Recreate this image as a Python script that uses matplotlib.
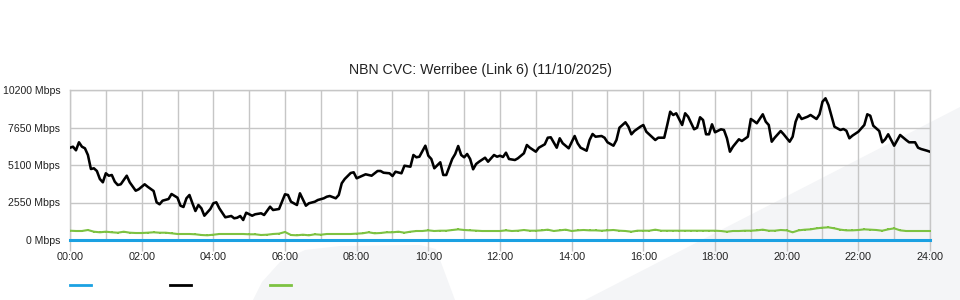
import matplotlib
matplotlib.use("Agg")
import matplotlib.pyplot as plt
from matplotlib.patches import Polygon
from matplotlib.lines import Line2D
import numpy as np

plt.rcParams['font.family'] = ['Liberation Sans', 'DejaVu Sans']

TITLE = "NBN CVC: Werribee (Link 6) (11/10/2025)"

# black series: minutes after midnight, Mbps
black_min = [0, 5, 10, 15, 20, 25, 30, 35, 40, 45, 50, 55, 60, 65, 70, 75, 80, 85, 95, 100,
             110, 115, 125, 130, 140, 145, 150, 155, 165, 170, 180, 185, 190, 195, 200, 205,
             210, 215, 220, 225, 235, 240, 245, 250, 260, 270, 275, 280, 285, 290, 295, 305,
             310, 320, 325, 335, 340, 350, 360, 365, 370, 380, 385, 395, 400, 410, 415, 425,
             430, 435, 445, 450, 455, 460, 470, 475, 480, 495, 500, 505, 515, 520, 525, 535,
             540, 545, 555, 560, 570, 575, 580, 585, 595, 600, 605, 610, 620, 625, 630, 640,
             645, 650, 655, 660, 665, 670, 675, 680, 685, 695, 700, 710, 715, 720, 725, 730,
             735, 745, 750, 760, 765, 770, 780, 785, 795, 800, 805, 815, 820, 825, 835, 845,
             850, 855, 865, 870, 875, 880, 890, 895, 900, 910, 915, 920, 930, 935, 940, 945,
             955, 960, 965, 980, 985, 995, 1000, 1005, 1010, 1015, 1025, 1030, 1035, 1045,
             1050, 1055, 1060, 1065, 1070, 1075, 1080, 1090, 1095, 1100, 1105, 1110, 1120,
             1125, 1135, 1140, 1145, 1150, 1160, 1165, 1170, 1175, 1180, 1190, 1195, 1205,
             1210, 1215, 1220, 1225, 1235, 1240, 1250, 1255, 1260, 1265, 1270, 1280, 1290,
             1295, 1300, 1305, 1310, 1320, 1325, 1330, 1335, 1340, 1345, 1355, 1360, 1365,
             1370, 1380, 1390, 1400, 1405, 1415, 1420, 1425, 1435, 1440]
black_mbps = [6276, 6344, 6100, 6644, 6344, 6236, 5780, 4828, 4876, 4692, 4148, 3924, 4536, 4372, 4420, 3964, 3740, 3788, 4372, 3924,
              3352, 3448, 3788, 3624, 3332, 2564, 2428, 2672, 2788, 3128, 2876, 2332, 2244, 2836, 3060, 2496,
              1972, 2380, 2156, 1652, 2108, 2496, 2564, 2156, 1544, 1632, 1476, 1516, 1632, 1360, 1856, 1652,
              1748, 1816, 1700, 2264, 2040, 2108, 3108, 3060, 2604, 2380, 3176, 2332, 2496, 2604, 2720, 2836,
              2944, 2992, 2836, 3060, 3856, 4148, 4556, 4604, 4196, 4468, 4420, 4372, 4692, 4692, 4576, 4536,
              4352, 4644, 4536, 5052, 4984, 5780, 5624, 5664, 6412, 5732, 5508, 4876, 5284, 4420, 4420, 5508,
              5848, 6392, 5780, 5624, 5848, 5508, 4808, 5168, 5324, 5596, 5324, 5780, 5664, 5732, 5644, 5936,
              5508, 5440, 5556, 5896, 6460, 6276, 6004, 6276, 6508, 6956, 6984, 6276, 6916, 6576, 6236, 7072,
              6576, 6276, 6072, 6800, 7208, 7024, 7072, 6956, 6644, 6412, 6800, 7636, 8004, 7704, 7188, 7412,
              7704, 7820, 7364, 6800, 6956, 6956, 7820, 8724, 8500, 8616, 7820, 8616, 8384, 7528,
              7636, 8344, 8160, 7188, 7188, 7868, 7324, 7528, 7480, 6916, 6004, 6344, 6848,
              6732, 7024, 8228, 8092, 7936, 8548, 8044, 7820, 6684, 6956, 7412, 7188, 6684,
              7024, 8044, 8548, 8228, 8384, 8500, 8228, 8548, 9404, 9636, 9180, 7704, 7480,
              7548, 7432, 6916, 7092, 7364, 7596, 7820, 8548, 8452, 7772, 7412, 6644, 6848,
              7188, 6412, 7140, 6800, 6644, 6644, 6276, 6188, 6072, 6004]

# green series every 10 minutes
green_mbps = [632, 612, 612, 680, 564, 524, 564, 524, 496, 564, 496, 476,
              476, 496, 524, 496, 496, 456, 408, 408, 408, 388, 340, 320,
              360, 408, 408, 408, 408, 408, 388, 388, 340, 360, 408, 432,
              544, 340, 320, 360, 320, 388, 360, 408, 408, 408, 408, 408,
              432, 456, 524, 456, 476, 524, 524, 564, 496, 564, 612, 612,
              656, 612, 632, 632, 680, 724, 680, 656, 632, 612, 612, 612,
              612, 656, 612, 632, 680, 632, 632, 656, 701, 612, 656, 701,
              612, 656, 680, 656, 656, 632, 656, 680, 632, 612, 564, 632,
              632, 632, 701, 632, 632, 632, 632, 632, 632, 632, 632, 632,
              632, 612, 564, 612, 612, 632, 632, 656, 701, 632, 632, 680,
              656, 524, 656, 701, 724, 792, 837, 860, 792, 701, 656, 656,
              680, 724, 701, 680, 632, 724, 792, 656, 612, 612, 612, 612,
              612]
green_min = list(range(0, 1441, 10))

blue_min = [0, 1440]
blue_mbps = [0, 0]

y_ticks = [0, 2550, 5100, 7650, 10200]
x_labels = ["00:00", "02:00", "04:00", "06:00", "08:00", "10:00", "12:00",
            "14:00", "16:00", "18:00", "20:00", "22:00", "24:00"]

BLUE = "#1ba1e2"
GREEN = "#7dc242"
GRID = "#c6c6c6"
WASH = "#f4f5f7"

W, H = 960, 300
fig = plt.figure(figsize=(9.6, 3.0), dpi=100)
fig.patch.set_facecolor("white")


def px(pts):
    return [(x / W, 1 - y / H) for x, y in pts]


# faint background watermark, kept behind the axes
bg = fig.add_axes([0, 0, 1, 1], zorder=-5)
bg.set_axis_off()
bg.set_xlim(0, 1)
bg.set_ylim(0, 1)
bg.add_patch(Polygon(px([(253, 300), (262, 282), (280, 262), (305, 250), (340, 246),
                         (420, 245), (436, 249), (455, 300)]),
                     closed=True, facecolor=WASH, edgecolor="none"))
bg.add_patch(Polygon(px([(585, 300), (960, 107), (960, 300)]),
                     closed=True, facecolor=WASH, edgecolor="none"))

ax = fig.add_axes([70 / W, 1 - 240 / H, 860 / W, 150 / H])
ax.set_facecolor("none")

bh = np.array(black_min) / 60.0
gh = np.array(green_min) / 60.0
ax.plot(np.array(blue_min) / 60.0, blue_mbps, color=BLUE, lw=2.2, zorder=4, clip_on=False)
ax.plot(gh, green_mbps, color=GREEN, lw=1.5, marker="s", ms=1.7, mew=0, zorder=3)
ax.plot(bh, black_mbps, color="black", lw=1.85, zorder=3)

ax.set_xlim(0, 24)
ax.set_ylim(0, 10200)
ax.set_yticks(y_ticks)
ax.set_yticklabels([f"{v} Mbps" for v in y_ticks])
ax.set_xticks(np.arange(0, 25, 2))
ax.set_xticklabels(x_labels)
ax.set_xticks(np.arange(1, 24, 2), minor=True)

ax.grid(True, which="both", axis="x", color=GRID, lw=1)
ax.grid(True, axis="y", color=GRID, lw=1)
ax.tick_params(axis="y", length=0, pad=7, labelsize=7.6, labelcolor="#222222")
ax.tick_params(axis="x", which="major", length=8, width=1, color=GRID, pad=1,
               labelsize=7.8, labelcolor="#222222")
ax.tick_params(axis="x", which="minor", length=0)
for s in ax.spines.values():
    s.set_color(GRID)
    s.set_linewidth(1)

fig.text(0.5, 1 - 70 / H, TITLE, ha="center", va="center", fontsize=10.2, color="#222222")

# legend swatches (no labels in the source)
for x0, c in [(70, BLUE), (170, "black"), (270, GREEN)]:
    fig.add_artist(Line2D([x0 / W, (x0 + 21) / W], [1 - 285 / H, 1 - 285 / H],
                          transform=fig.transFigure, color=c, lw=2))

fig.savefig("out.png", dpi=100)
